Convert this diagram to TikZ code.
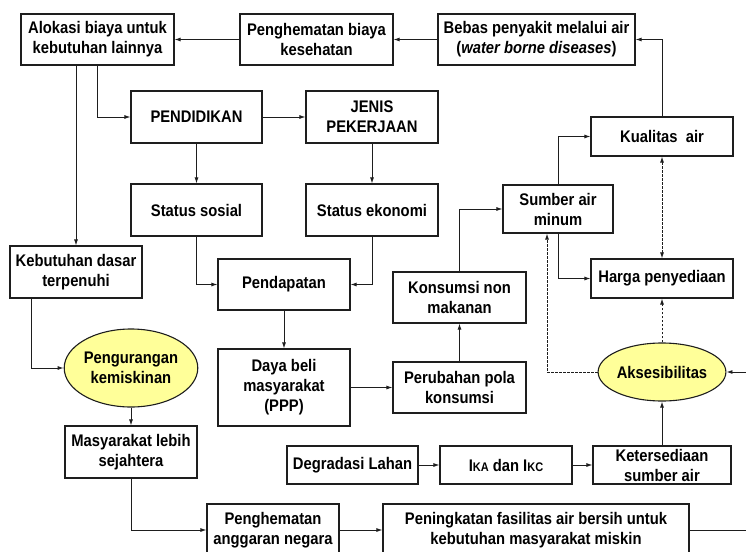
\documentclass[tikz,border=0pt]{standalone}
\usepackage{fontspec}
\setmainfont{Liberation Sans}[FakeStretch=0.88]
\usepackage{xcolor}
\usetikzlibrary{arrows.meta,shapes.geometric}

\definecolor{kuning}{RGB}{255,255,153}
\definecolor{garis}{RGB}{30,30,30}

\begin{document}
\begin{tikzpicture}[x=1pt,y=-1pt,
  kotak/.style={draw=garis, line width=1.1pt, align=center, inner sep=0pt,
    font=\bfseries\fontsize{16.8}{20}\selectfont},
  elips/.style={kotak, ellipse, fill=kuning},
  panah/.style={draw=garis, line width=0.9pt, -{Latex[length=6pt,width=4pt]}},
  putus/.style={panah, dash pattern=on 2.5pt off 1.5pt},
  garisan/.style={draw=garis, line width=0.9pt}]
\useasboundingbox (0,0) rectangle (746,551);
\clip (0,0) rectangle (746,551);

% Top row
\node[kotak, minimum width=153pt, minimum height=51pt] (alokasi) at (97.5,39.5) {Alokasi biaya untuk\\kebutuhan lainnya};
\node[kotak, minimum width=153pt, minimum height=51pt] (hemat) at (316.5,39.5) {Penghematan biaya\\kesehatan};
\node[kotak, minimum width=197pt, minimum height=51pt] (bebas) at (536.5,39.5) {Bebas penyakit melalui air\\(\textit{water borne diseases})};

% Education and work
\node[kotak, minimum width=131pt, minimum height=52pt] (didik) at (196.5,117) {PENDIDIKAN};
\node[kotak, minimum width=132pt, minimum height=52pt] (jenis) at (372,117) {JENIS\\PEKERJAAN};
\node[kotak, minimum width=131pt, minimum height=52pt] (sosial) at (196.5,210) {Status sosial};
\node[kotak, minimum width=132pt, minimum height=52pt] (ekonomi) at (372,210) {Status ekonomi};

% Left column
\node[kotak, minimum width=132pt, minimum height=52pt] (dasar) at (76,272) {Kebutuhan dasar\\terpenuhi};
\node[elips, minimum width=132pt, minimum height=78pt] (miskin) at (131,368) {Pengurangan\\kemiskinan};
\node[kotak, minimum width=132pt, minimum height=52pt] (sejahtera) at (131,452) {Masyarakat lebih\\sejahtera};

% Income and consumption
\node[kotak, minimum width=132pt, minimum height=51pt] (pendapatan) at (284,284.5) {Pendapatan};
\node[kotak, minimum width=132pt, minimum height=77pt] (daya) at (284,387.5) {Daya beli\\masyarakat\\(PPP)};
\node[kotak, minimum width=133pt, minimum height=51pt] (ubah) at (459.5,387.5) {Perubahan pola\\konsumsi};
\node[kotak, minimum width=133pt, minimum height=51pt] (nonmakan) at (459.5,297.5) {Konsumsi non\\makanan};

% Water
\node[kotak, minimum width=110pt, minimum height=48pt] (sumber) at (558,209) {Sumber air\\minum};
\node[kotak, minimum width=142pt, minimum height=39pt] (kualitas) at (662,136.5) {Kualitas\ \ air};
\node[kotak, minimum width=142pt, minimum height=39pt] (harga) at (662,278.5) {Harga penyediaan};
\node[elips, minimum width=114pt, minimum height=58pt] (akses) at (662,372) {Aksesibilitas};

% Land and supply
\node[kotak, minimum width=131pt, minimum height=38pt] (lahan) at (352.5,465) {Degradasi Lahan};
\node[kotak, minimum width=132pt, minimum height=38pt] (ika) at (506,465) {I{\fontsize{12.5}{12}\selectfont KA} dan I{\fontsize{12.5}{12}\selectfont KC}};
\node[kotak, minimum width=138pt, minimum height=38pt] (sedia) at (662,465) {Ketersediaan\\sumber air};

% Bottom row
\node[kotak, minimum width=132pt, minimum height=52pt] (anggaran) at (273,530) {Penghematan\\anggaran negara};
\node[kotak, minimum width=306pt, minimum height=52pt] (fasilitas) at (536,530) {Peningkatan fasilitas air bersih untuk\\kebutuhan masyarakat miskin};

\coordinate (kananbawah) at (762,530);
\coordinate (kananatas) at (762,372);

% Connectors
\draw[panah] (bebas) -- (hemat);
\draw[panah] (hemat) -- (alokasi);
\draw[panah] (alokasi.south) |- (didik.west);
\draw[panah] (dasar.north |- alokasi.south) -- (dasar.north);
\draw[panah] (didik) -- (jenis);
\draw[panah] (didik) -- (sosial);
\draw[panah] (jenis) -- (ekonomi);
\draw[panah] (sosial.south) |- (pendapatan.west);
\draw[panah] (ekonomi.south) |- (pendapatan.east);
\draw[panah] (pendapatan) -- (daya);
\draw[panah] ([xshift=22pt]dasar.south west) |- (miskin.west);
\draw[panah] (miskin) -- (sejahtera);
\draw[panah] (sejahtera.south) |- (anggaran.west);
\draw[panah] (anggaran) -- (fasilitas);
\draw[garisan] (fasilitas.east) -- (kananbawah) -- (kananatas);
\draw[panah] (kananatas) -- (akses.east);
\draw[panah] (daya.east |- ubah.west) -- (ubah.west);
\draw[panah] (ubah) -- (nonmakan);
\draw[panah] (nonmakan.north) |- (sumber.west);
\draw[panah] (sumber.south) |- (harga.west);
\draw[panah] (sumber.north) |- (kualitas.west);
\draw[panah] (kualitas.north) |- (bebas.east);
\draw[putus, {Latex[length=6pt,width=4pt]}-{Latex[length=6pt,width=4pt]}] (kualitas) -- (harga);
\draw[putus] (akses) -- (harga);
\draw[putus] (akses.west) -| ([xshift=-11pt]sumber.south);
\draw[panah] (sedia) -- (akses);
\draw[panah] (lahan) -- (ika);
\draw[panah] (ika) -- (sedia);
\end{tikzpicture}
\end{document}
